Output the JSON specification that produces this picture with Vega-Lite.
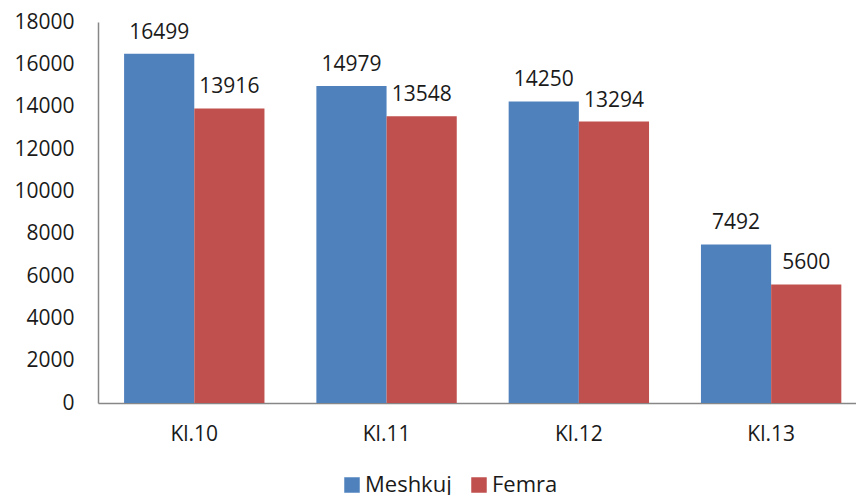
{
  "$schema": "https://vega.github.io/schema/vega-lite/v6.json",
  "autosize": {"type": "none"},
  "padding": {"left": 98, "top": 22, "right": 0, "bottom": 92},
  "width": 758,
  "height": 381,
  "background": "white",
  "config": {
    "view": {"stroke": null},
    "font": "Open Sans",
    "axis": {"labelFont": "Open Sans", "labelFontSize": 21, "labelColor": "#1a1a1a", "domainColor": "#878787", "domainWidth": 1.5, "ticks": false, "grid": false, "title": null}
  },
  "data": {
    "values": [
      {"grade": "Kl.10", "gender": "Meshkuj", "value": 16499},
      {"grade": "Kl.10", "gender": "Femra", "value": 13916},
      {"grade": "Kl.11", "gender": "Meshkuj", "value": 14979},
      {"grade": "Kl.11", "gender": "Femra", "value": 13548},
      {"grade": "Kl.12", "gender": "Meshkuj", "value": 14250},
      {"grade": "Kl.12", "gender": "Femra", "value": 13294},
      {"grade": "Kl.13", "gender": "Meshkuj", "value": 7492},
      {"grade": "Kl.13", "gender": "Femra", "value": 5600}
    ]
  },
  "encoding": {
    "x": {"field": "grade", "type": "nominal", "sort": null,
      "scale": {"paddingInner": 0.27, "paddingOuter": 0.106, "align": 0.64},
      "axis": {"labelAngle": 0, "labelPadding": 20}},
    "xOffset": {"field": "gender", "type": "nominal", "sort": ["Meshkuj", "Femra"], "scale": {"paddingInner": 0, "paddingOuter": 0}},
    "y": {"field": "value", "type": "quantitative",
      "scale": {"domain": [0, 18000], "nice": false},
      "axis": {"values": [0, 2000, 4000, 6000, 8000, 10000, 12000, 14000, 16000, 18000], "format": "d", "labelPadding": 24}}
  },
  "layer": [
    {
      "mark": {"type": "bar"},
      "encoding": {
        "color": {"field": "gender", "type": "nominal",
          "scale": {"domain": ["Meshkuj", "Femra"], "range": ["#4F81BD", "#C0504D"]},
          "legend": {"title": null, "orient": "none", "legendX": 243, "legendY": 452, "direction": "horizontal",
            "symbolType": "square", "symbolSize": 240, "symbolStrokeWidth": 0, "labelFontSize": 22, "labelFont": "Open Sans", "labelColor": "#1a1a1a", "columnPadding": 16, "labelOffset": 2}}
      }
    },
    {
      "mark": {"type": "text", "baseline": "bottom", "dy": -11, "fontSize": 21, "font": "Open Sans", "color": "#1a1a1a"},
      "encoding": {"text": {"field": "value", "type": "quantitative", "format": "d"}}
    }
  ]
}
